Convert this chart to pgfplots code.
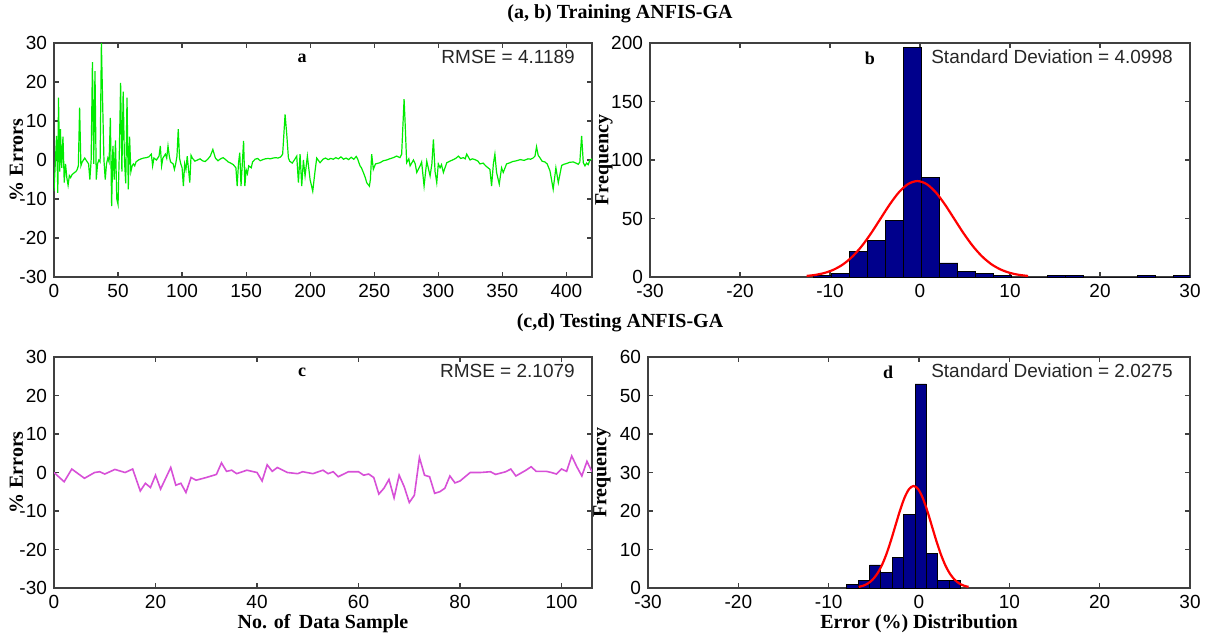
\documentclass[border=0pt]{standalone}
\usepackage{fontspec}
\setmainfont{Liberation Serif}
\newfontfamily\arial{Liberation Sans}
\usepackage{pgfplots}
\pgfplotsset{compat=1.18}

\definecolor{mgreen}{RGB}{0,235,0}
\definecolor{mviolet}{RGB}{215,80,215}
\definecolor{mnavy}{RGB}{0,0,140}

\pgfplotsset{
  mstyle/.style={
    scale only axis, width=269pt,
    anchor=north west,
    axis line style={black!75, line width=0.6pt},
    tick style={black!75, line width=0.6pt},
    major tick length=2.5pt,
    tick align=inside,
    /pgf/number format/assume math mode=true,
    tick label style={font=\arial\fontsize{9.5}{11}\selectfont},
    label style={font=\bfseries\fontsize{10}{12}\selectfont},
  },
  errax/.style={
    ymin=-30, ymax=30, ytick={-30,-20,...,30},
    ylabel={\% Errors},
    ylabel style={at={(axis description cs:-0.07,0.5)}, anchor=center},
  },
  histax/.style={
    xmin=-30, xmax=30, xtick={-30,-20,...,30}, ymin=0,
    ylabel={Frequency},
    ylabel style={at={(axis description cs:-0.085,0.5)}, anchor=center},
  },
}
\tikzset{
  note/.style={font=\arial\fontsize{9.5}{11}\selectfont, anchor=east, text=black!85},
  letter/.style={font=\bfseries\fontsize{9}{10}\selectfont},
}

\begin{document}
\begin{tikzpicture}
\useasboundingbox (0,0) rectangle (609pt,-316pt);

\node[font=\bfseries\fontsize{10}{12}\selectfont] at (310pt,-7pt) {(a, b) Training ANFIS-GA};
\node[font=\bfseries\fontsize{10}{12}\selectfont] at (310pt,-161.5pt) {(c,d) Testing ANFIS-GA};

% (a) training errors
\begin{axis}[mstyle, errax, at={(27pt,-21.5pt)}, height=117pt,
  xmin=0, xmax=420, xtick={0,50,...,400}]
\addplot[mgreen, line width=0.6pt] coordinates {
(0,-8) (1,-1) (2,6.2) (3,-8.4) (3.5,16) (4.5,-3) (5,7.9) (6,-2) (7,6) (8,-5.8)
(9,-1) (10,-4.5) (11,-6.5) (12,-4) (13,-4.5) (14,-3.8) (15,-3.5) (16,-3.2) (17,-3) (18,-2.5)
(19,-1.5) (20,13.4) (21,-1.5) (22,-0.5) (23,0) (24,0.5) (25,0) (26,-0.5) (27,-1) (28,-5)
(29,0) (30,25.1) (31,-1) (32,22.8) (33,-5) (34,-1) (35,0) (36,-0.5) (37,30) (38,14.3)
(39,0) (40,-5) (41,-1) (42,0.5) (43,-0.5) (44,10.8) (45,-11.8) (46,3.6) (47,-5) (48,5)
(49,-10) (50,-11.4) (51,2) (52,19.8) (53,-3) (54,17.5) (55,0) (56,-6) (57,16) (58,-7.5)
(59,6) (60,-3) (61,-1.5) (62,-1) (63,-1.5) (64,-0.5) (66,0) (68,0.3) (70,0.5) (72,0.6)
(74,0.8) (76,1.5) (77,-1.5) (78,0.5) (80,0) (82,1) (83,3.6) (84,-1.5) (85,0.5) (87,1.5)
(88,0.5) (89,3.6) (90,1) (91,-0.5) (93,-1) (94,-2.4) (95,-1) (96,1) (97,7.9) (98,0.5)
(99,-1) (100,-2) (101,-6.7) (102,-1) (103,-2.5) (104,1) (106,-5.8) (107,1.2) (108,0.5) (110,-0.3)
(112,0) (114,0.3) (116,-0.2) (118,-0.4) (120,0.2) (122,1) (124,2.7) (126,0.5) (128,-0.2) (130,0.3)
(132,0.6) (134,0.1) (136,-0.5) (138,-0.8) (140,-1.2) (142,-2) (143,-6.7) (144,-1) (145,1.9) (146,-6.7)
(147,-1) (148,4.9) (149,-6.7) (150,-2.5) (151,-3.5) (152,-1.5) (154,-2) (155,-0.5) (157,0.2) (159,0.4)
(161,-0.2) (163,0.1) (165,0.3) (167,0.4) (169,0.3) (171,0.5) (173,0.6) (175,0.5) (177,0.8) (178.5,1.5)
(180.4,11.7) (181.7,6.6) (183,0.5) (184,-0.3) (186,-0.8) (188,0.2) (189.5,1) (190.8,-5.8) (192.1,1.5) (193.4,-6.7)
(194.7,0) (196,-4.1) (197.8,1) (199.9,-5) (202,-8) (203.8,-2.8) (205.1,0.5) (207.7,-0.7) (210,0.2) (212,0.5)
(214,0.1) (216,0.4) (218,0.2) (220,0.6) (222,0.3) (224,0.8) (226,0.2) (228,0.5) (230,0.1) (232,0.7)
(234,0.2) (236,0.9) (237,0.3) (238.9,-1.5) (240,-2) (241.5,-3.2) (243,-4.5) (244.1,-5.8) (246.2,-6.7) (247,-5)
(248,1.5) (249.3,-2.4) (251,-1) (254.5,-0.7) (257,-0.2) (259.7,0) (262,0.3) (264.9,0.6) (267.5,1) (270.1,0.6)
(271.4,1.5) (273.3,15.6) (274,10.4) (275.3,-0.7) (277,0.3) (278,-1.5) (280.6,0) (282,-1) (283.2,-3.2) (285.8,-1.5)
(287,-0.5) (288.9,-6.7) (291,-0.3) (293.6,-4.1) (295,-1) (296.2,5.3) (297.5,-3) (298.8,-5.8) (300,-1) (301.4,-2)
(302.5,-1.2) (304,-3.2) (306.6,-0.7) (309,-0.3) (311.8,0.1) (314,0.5) (315.7,1) (317.5,0.4) (319.6,0.6) (321,0.3)
(322.2,1.5) (324.8,0) (326.5,0.3) (328.7,0.1) (331,-0.3) (332.5,-1) (335,-0.8) (337,-1.5) (340.3,-2.4) (341.6,-6.7)
(343,-1) (344.2,1.5) (345.5,-3.2) (347.6,-6.2) (349.4,-2) (350.7,-3.2) (353.3,-1) (356,-0.7) (358,-0.4) (361,-0.2)
(364,0.1) (367,-0.1) (370,0.3) (372,0.2) (374,0.5) (375.5,1) (376.7,3.4) (378,1.2) (379.3,0.6) (381,-0.3)
(383.2,-0.5) (385,-1) (387.2,-2.8) (389.7,-7.5) (391.8,-2) (393.7,-5.8) (396.3,-1.4) (398,-1.1) (400.2,-0.9) (402.5,-0.6)
(405.4,-0.5) (407.5,-0.8) (409.3,-1.1) (410.5,-0.5) (411.9,6.2) (413.2,-0.7) (414.5,-1.5) (415.8,-0.8) (417,-1.2) (418.4,0)
(420,0.3)
};
\node[note] at (rel axis cs:0.981,0.94) {RMSE = 4.1189};
\node[letter] at (rel axis cs:0.461,0.935) {a};
\end{axis}

% (b) training histogram
\begin{axis}[mstyle, histax, at={(325pt,-21.5pt)}, height=117pt,
  width=270pt, ymax=200, ytick={0,50,...,200}]
\addplot[ybar interval, fill=mnavy, draw=black, line width=0.4pt] coordinates {
(-11.8,1) (-9.8,3) (-7.8,22) (-5.8,31) (-3.8,48) (-1.8,196) (0.2,85) (2.2,12) (4.2,5) (6.2,3)
(8.2,1) (10.2,0) (12.2,0) (14.2,1) (16.2,1) (18.2,0) (20.2,0) (22.2,0) (24.2,1) (26.2,0)
(28.2,1) (30.2,0)
};
\addplot[red, line width=1.1pt, smooth] coordinates {
(-12.6,0.91) (-11.575,1.87) (-10.55,3.60) (-9.525,6.53) (-8.5,11.09) (-7.475,17.74) (-6.45,26.63)
(-5.425,37.54) (-4.4,49.73) (-3.375,61.89) (-2.35,72.37) (-1.325,79.47) (-0.3,82)
(0.725,79.47) (1.75,72.37) (2.775,61.89) (3.8,49.73) (4.825,37.54) (5.85,26.63)
(6.875,17.74) (7.9,11.09) (8.925,6.53) (9.95,3.60) (10.975,1.87) (12.0,0.91)
};
\node[note] at (rel axis cs:0.981,0.94) {Standard Deviation = 4.0998};
\node[letter] at (rel axis cs:0.407,0.935) {b};
\end{axis}

% (c) testing errors
\begin{axis}[mstyle, errax, at={(27pt,-178.5pt)}, height=115.5pt,
  xmin=0, xmax=106, xtick={0,20,...,100},
  xlabel={No. of \,Data Sample},
  xlabel style={at={(axis description cs:0.5,0)}, yshift=-18pt, anchor=center}]
\addplot[mviolet, line width=0.8pt] coordinates {
(0,0) (2,-2.4) (3.5,0.9) (6,-1.5) (8,0) (9,0.2) (10,-0.4) (12,0.8) (14,0) (15.5,0.9)
(17,-4.8) (18,-2.8) (19,-3.9) (20,-0.7) (21,-4.3) (23,1.3) (24,-3.3) (25,-2.8) (26,-5.2) (27,-1.3)
(28,-2.0) (30,-1.3) (32,-0.5) (33,2.5) (34,0.3) (35,0.6) (36,-0.3) (38,0.6) (40,0) (41,-2.2)
(42,2.0) (43,0.3) (44,1.3) (46,0) (48,-0.3) (49,0.2) (51,-0.3) (53,0.6) (54,-0.3) (55,0.2)
(56,-1.1) (58,0.2) (60,0.2) (61,-0.7) (62,-0.4) (63,-1.3) (64,-5.6) (65,-4.1) (66,-1.8) (67,-6.6)
(68,-0.7) (69,-3.7) (70,-7.8) (71,-5.9) (72,3.9) (73,-0.7) (74,-1.1) (75,-5.4) (76,-5.0) (77,-4.1)
(78,-0.9) (79,-2.7) (80,-2.2) (82,0) (84,0) (86,0.2) (87,-0.5) (89,0.2) (90,0.9) (91,-0.9)
(93,0.6) (94,1.5) (95,0.3) (97,0.3) (98,0) (99,-0.4) (100,0.9) (101,0.3) (102,4.3) (103,1.5)
(104,-0.9) (105,2.9) (106,0.2)
};
\node[note] at (rel axis cs:0.981,0.94) {RMSE = 2.1079};
\node[letter] at (rel axis cs:0.461,0.935) {c};
\end{axis}

% (d) testing histogram
\begin{axis}[mstyle, histax, at={(324pt,-178.5pt)}, height=115.5pt,
  width=271pt, ymax=60, ytick={0,10,...,60},
  xlabel={Error (\%) Distribution},
  xlabel style={at={(axis description cs:0.5,0)}, yshift=-18pt, anchor=center}]
\addplot[ybar interval, fill=mnavy, draw=black, line width=0.4pt] coordinates {
(-8.0,1) (-6.74,2) (-5.48,6) (-4.22,4) (-2.96,8) (-1.70,19) (-0.44,53) (0.82,9) (2.08,2) (3.34,2)
(4.60,0)
};
\addplot[red, line width=1.1pt, smooth] coordinates {
(-6.683,0.29) (-6.176,0.60) (-5.669,1.16) (-5.162,2.11) (-4.655,3.59) (-4.148,5.73) (-3.641,8.60)
(-3.134,12.13) (-2.628,16.07) (-2.121,20.0) (-1.614,23.39) (-1.107,25.68) (-0.6,26.5)
(-0.093,25.68) (0.414,23.39) (0.921,20.0) (1.428,16.07) (1.934,12.13) (2.441,8.60)
(2.948,5.73) (3.455,3.59) (3.962,2.11) (4.469,1.16) (4.976,0.60) (5.483,0.29)
};
\node[note] at (rel axis cs:0.981,0.94) {Standard Deviation = 2.0275};
\node[letter] at (rel axis cs:0.443,0.935) {d};
\end{axis}
\end{tikzpicture}
\end{document}
